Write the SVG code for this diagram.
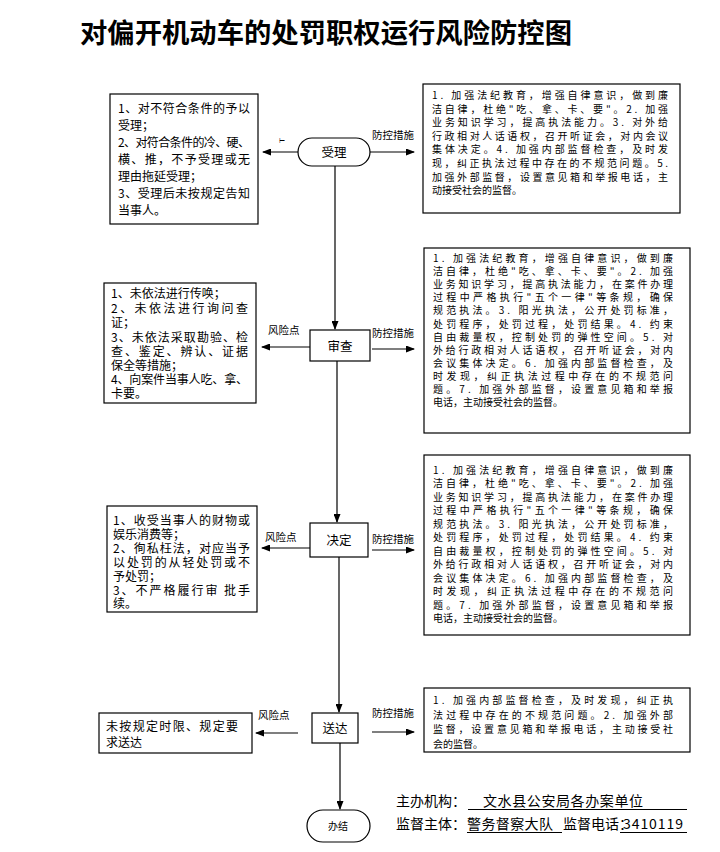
<svg xmlns="http://www.w3.org/2000/svg" width="720" height="852" viewBox="0 0 720 852">
<style>
text{font-family:"Noto Sans CJK SC","Noto Sans CJK TC",sans-serif;fill:#000}
.box{fill:#fff;stroke:#000;stroke-width:1.2}
.node{fill:#fff;stroke:#000;stroke-width:1.2}
.t13{font-size:12px}
.t11{font-size:10px}
.lbl{font-size:10.5px}
.nt{font-size:12.5px;text-anchor:middle}
.ft{font-size:14px}
.ln{stroke:#000;stroke-width:1.2;fill:none}
.ul{stroke:#000;stroke-width:1}
</style>
<defs>
<marker id="ah" markerUnits="userSpaceOnUse" markerWidth="9" markerHeight="7" refX="8" refY="3.5" orient="auto">
<path d="M0,0 L9,3.5 L0,7 z" fill="#000"/>
</marker>
</defs>
<rect width="720" height="852" fill="#fff"/>
<text x="80" y="43" font-size="27" font-weight="bold" textLength="492" lengthAdjust="spacingAndGlyphs">对偏开机动车的处罚职权运行风险防控图</text>

<g id="connectors">
<line class="ln" x1="335" y1="166" x2="335" y2="329" marker-end="url(#ah)"/>
<line class="ln" x1="337" y1="361" x2="337" y2="522" marker-end="url(#ah)"/>
<line class="ln" x1="339" y1="557" x2="339" y2="712" marker-end="url(#ah)"/>
<line class="ln" x1="340" y1="743" x2="340" y2="809" marker-end="url(#ah)"/>
<line class="ln" x1="298" y1="152" x2="263" y2="152" marker-end="url(#ah)"/>
<line class="ln" x1="370" y1="152" x2="414" y2="152" marker-end="url(#ah)"/>
<line class="ln" x1="310" y1="347" x2="262" y2="347" marker-end="url(#ah)"/>
<line class="ln" x1="372" y1="349" x2="414" y2="349" marker-end="url(#ah)"/>
<line class="ln" x1="310" y1="548" x2="262" y2="548" marker-end="url(#ah)"/>
<line class="ln" x1="372" y1="550" x2="414" y2="550" marker-end="url(#ah)"/>
<line class="ln" x1="298" y1="733" x2="256" y2="733" marker-end="url(#ah)"/>
<line class="ln" x1="372" y1="732" x2="414" y2="732" marker-end="url(#ah)"/>
<text x="279" y="143" font-size="7">⊢</text>
<text class="lbl" x="372" y="139">防控措施</text>
<text class="lbl" x="268" y="334">风险点</text>
<text class="lbl" x="372" y="337">防控措施</text>
<text class="lbl" x="265" y="541">风险点</text>
<text class="lbl" x="372" y="543">防控措施</text>
<text class="lbl" x="258" y="719">风险点</text>
<text class="lbl" x="372" y="717">防控措施</text>
</g>

<g id="node-shouli">
<rect class="node" x="298" y="138" width="72" height="28" rx="14"/>
<text class="nt" x="334" y="157">受理</text>
</g>
<g id="node-shencha">
<rect class="node" x="310" y="330" width="60" height="31"/>
<text class="nt" x="340" y="351">审查</text>
</g>
<g id="node-jueding">
<rect class="node" x="310" y="523" width="58" height="34"/>
<text class="nt" x="339" y="545">决定</text>
</g>
<g id="node-songda">
<rect class="node" x="312" y="713" width="46" height="30"/>
<text class="nt" x="335" y="733">送达</text>
</g>
<g id="node-banjie">
<rect class="node" x="307" y="810" width="63" height="32" rx="16"/>
<text x="338" y="830" font-size="10" text-anchor="middle">办结</text>
</g>

<g id="risk-1">
<rect class="box" x="110" y="94" width="148" height="130"/>
<text class="t13" x="118" y="113" textLength="132">1、对不符合条件的予以</text>
<text class="t13" x="118" y="130">受理；</text>
<text class="t13" x="118" y="147" textLength="132">2、对符合条件的冷、硬、</text>
<text class="t13" x="118" y="164" textLength="132">横、推，不予受理或无</text>
<text class="t13" x="118" y="181">理由拖延受理；</text>
<text class="t13" x="118" y="198" textLength="132">3、受理后未按规定告知</text>
<text class="t13" x="118" y="215">当事人。</text>
</g>

<g id="measure-1">
<rect class="box" x="423" y="84" width="257" height="129"/>
<text class="t11" x="432" y="99" textLength="236">1. 加强法纪教育，增强自律意识，做到廉</text>
<text class="t11" x="432" y="112.6" textLength="236">洁自律，杜绝"吃、拿、卡、要"。2. 加强</text>
<text class="t11" x="432" y="126.2" textLength="236">业务知识学习，提高执法能力。3. 对外给</text>
<text class="t11" x="432" y="139.8" textLength="236">行政相对人话语权，召开听证会，对内会议</text>
<text class="t11" x="432" y="153.4" textLength="236">集体决定。4. 加强内部监督检查，及时发</text>
<text class="t11" x="432" y="167" textLength="236">现，纠正执法过程中存在的不规范问题。5.</text>
<text class="t11" x="432" y="180.6" textLength="236">加强外部监督，设置意见箱和举报电话，主</text>
<text class="t11" x="432" y="194.2">动接受社会的监督。</text>
</g>

<g id="risk-2">
<rect class="box" x="104" y="283" width="152" height="120"/>
<text class="t13" x="111" y="298">1、未依法进行传唤；</text>
<text class="t13" x="111" y="313" textLength="137">2、未依法进行询问查</text>
<text class="t13" x="111" y="327">证；</text>
<text class="t13" x="111" y="342" textLength="137">3、未依法采取勘验、检</text>
<text class="t13" x="111" y="356" textLength="137">查、鉴定、辨认、证据</text>
<text class="t13" x="111" y="370">保全等措施；</text>
<text class="t13" x="111" y="384" textLength="137">4、向案件当事人吃、拿、</text>
<text class="t13" x="111" y="398">卡要。</text>
</g>

<g id="measure-2">
<rect class="box" x="424" y="248" width="266" height="185"/>
<text class="t11" x="433" y="262" textLength="240">1. 加强法纪教育，增强自律意识，做到廉</text>
<text class="t11" x="433" y="275.1" textLength="240">洁自律，杜绝"吃、拿、卡、要"。2. 加强</text>
<text class="t11" x="433" y="288.2" textLength="240">业务知识学习，提高执法能力，在案件办理</text>
<text class="t11" x="433" y="301.3" textLength="240">过程中严格执行"五个一律"等条规，确保</text>
<text class="t11" x="433" y="314.4" textLength="240">规范执法。3. 阳光执法，公开处罚标准，</text>
<text class="t11" x="433" y="327.5" textLength="240">处罚程序，处罚过程，处罚结果。4. 约束</text>
<text class="t11" x="433" y="340.6" textLength="240">自由裁量权，控制处罚的弹性空间。5. 对</text>
<text class="t11" x="433" y="353.7" textLength="240">外给行政相对人话语权，召开听证会，对内</text>
<text class="t11" x="433" y="366.8" textLength="240">会议集体决定。6. 加强内部监督检查，及</text>
<text class="t11" x="433" y="379.9" textLength="240">时发现，纠正执法过程中存在的不规范问</text>
<text class="t11" x="433" y="393" textLength="240">题。7. 加强外部监督，设置意见箱和举报</text>
<text class="t11" x="433" y="406.1">电话，主动接受社会的监督。</text>
</g>

<g id="risk-3">
<rect class="box" x="107" y="506" width="150" height="106"/>
<text class="t13" x="113" y="525" textLength="137">1、收受当事人的财物或</text>
<text class="t13" x="113" y="538.5">娱乐消费等；</text>
<text class="t13" x="113" y="553" textLength="137">2、徇私枉法，对应当予</text>
<text class="t13" x="113" y="567" textLength="137">以处罚的从轻处罚或不</text>
<text class="t13" x="113" y="581">予处罚；</text>
<text class="t13" x="113" y="594.5" textLength="137">3、不严格履行审 批手</text>
<text class="t13" x="113" y="608">续。</text>
</g>

<g id="measure-3">
<rect class="box" x="424" y="455" width="266" height="180"/>
<text class="t11" x="433" y="474" textLength="240">1. 加强法纪教育，增强自律意识，做到廉</text>
<text class="t11" x="433" y="487.45" textLength="240">洁自律，杜绝"吃、拿、卡、要"。2. 加强</text>
<text class="t11" x="433" y="500.9" textLength="240">业务知识学习，提高执法能力，在案件办理</text>
<text class="t11" x="433" y="514.35" textLength="240">过程中严格执行"五个一律"等条规，确保</text>
<text class="t11" x="433" y="527.8" textLength="240">规范执法。3. 阳光执法，公开处罚标准，</text>
<text class="t11" x="433" y="541.25" textLength="240">处罚程序，处罚过程，处罚结果。4. 约束</text>
<text class="t11" x="433" y="554.7" textLength="240">自由裁量权，控制处罚的弹性空间。5. 对</text>
<text class="t11" x="433" y="568.15" textLength="240">外给行政相对人话语权，召开听证会，对内</text>
<text class="t11" x="433" y="581.6" textLength="240">会议集体决定。6. 加强内部监督检查，及</text>
<text class="t11" x="433" y="595.05" textLength="240">时发现，纠正执法过程中存在的不规范问</text>
<text class="t11" x="433" y="608.5" textLength="240">题。7. 加强外部监督，设置意见箱和举报</text>
<text class="t11" x="433" y="621.95">电话，主动接受社会的监督。</text>
</g>

<g id="risk-4">
<rect class="box" x="99" y="713" width="153" height="40"/>
<text class="t13" x="106" y="731" textLength="132">未按规定时限、规定要</text>
<text class="t13" x="106" y="747">求送达</text>
</g>

<g id="measure-4">
<rect class="box" x="424" y="688" width="266" height="64"/>
<text class="t11" x="433" y="704" textLength="240">1. 加强内部监督检查，及时发现，纠正执</text>
<text class="t11" x="433" y="718.5" textLength="240">法过程中存在的不规范问题。2. 加强外部</text>
<text class="t11" x="433" y="733" textLength="240">监督，设置意见箱和举报电话，主动接受社</text>
<text class="t11" x="433" y="747.5">会的监督。</text>
</g>

<g id="footer">
<text class="ft" x="396" y="806">主办机构：</text>
<text class="ft" x="483" y="806" textLength="160">文水县公安局各办案单位</text>
<line class="ul" x1="468" y1="809.5" x2="687" y2="809.5"/>
<text class="ft" x="396" y="829">监督主体：</text>
<text class="ft" x="467" y="829" textLength="86">警务督察大队</text>
<line class="ul" x1="467" y1="832.5" x2="562" y2="832.5"/>
<text class="ft" x="563" y="829">监督电话：</text>
<text class="ft" x="623" y="829" textLength="60">3410119</text>
<line class="ul" x1="620" y1="832.5" x2="687" y2="832.5"/>
</g>
</svg>
